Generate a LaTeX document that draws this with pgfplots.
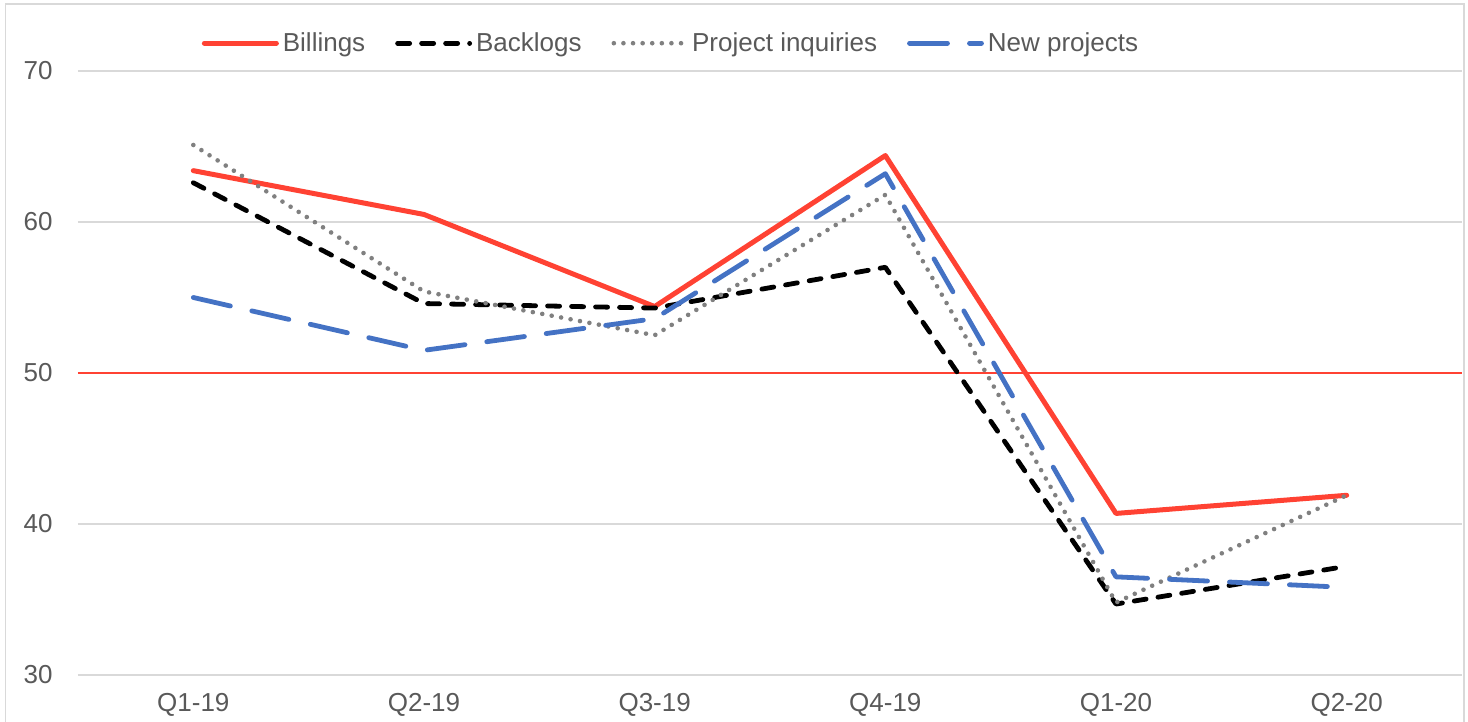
\documentclass[border=0pt]{standalone}
\usepackage{pgfplots}
\pgfplotsset{compat=1.18}
\usepackage{fontspec}
\setmainfont{Liberation Sans}
\definecolor{cRed}{RGB}{255,66,51}
\definecolor{cBlue}{RGB}{68,114,196}
\definecolor{cGrey}{RGB}{128,128,128}
\definecolor{cGrid}{RGB}{217,217,217}
\definecolor{cText}{RGB}{89,89,89}
\begin{document}
\begin{tikzpicture}
\useasboundingbox (-39pt,-23.5pt) rectangle (695pt,337.5pt);
\draw[cGrid, line width=0.8pt] (-36.25pt,-40pt) rectangle (693pt,335.5pt);
\begin{axis}[
  at={(0pt,0pt)}, anchor=south west,
  scale only axis,
  width=692pt, height=302pt,
  xmin=-0.5, xmax=5.5, ymin=30, ymax=70,
  xtick={0,1,2,3,4,5},
  xticklabels={Q1-19,Q2-19,Q3-19,Q4-19,Q1-20,Q2-20},
  ytick={30,40,50,60,70},
  major tick length=0pt,
  axis line style={draw=none},
  ymajorgrids, grid style={cGrid, line width=0.9pt},
  tick label style={font=\fontsize{13}{15}\selectfont, text=cText},
  yticklabel style={anchor=east, inner sep=0pt, xshift=-12.5pt},
  xticklabel style={anchor=north, inner sep=0pt, yshift=-9pt},
  /pgf/number format/assume math mode=true,
  clip=false,
  legend columns=-1,
  legend style={draw=none, fill=none, at={(0.4285,1.046)}, anchor=center,
    font=\fontsize{13}{15}\selectfont, text=cText,
    /tikz/every odd column/.append style={column sep=1pt},
    /tikz/every even column/.append style={column sep=14pt},
    inner sep=0pt, nodes={inner sep=1pt}},
  legend image code/.code={\draw[#1] (0pt,0pt) -- (36pt,0pt);},
]
\addplot[forget plot, cRed, line width=1.1pt] coordinates {(-0.5,50) (5.5,50)};
\addplot[cRed, line width=2.5pt, line join=round, line cap=round] coordinates {
 (0,63.4) (1,60.5) (2,54.4) (3,64.4) (4,40.7) (5,41.9)};
\addlegendentry{Billings}
\addplot[black, line width=2.4pt, line join=round, line cap=round, dash pattern=on 6pt off 6pt] coordinates {
 (0,62.6) (1,54.6) (2,54.3) (3,57.0) (4,34.7) (5,37.2)};
\addlegendentry{Backlogs}
\addplot[cGrey, line width=2.3pt, line cap=round, dash pattern=on 0pt off 4.8pt] coordinates {
 (0,65.1) (1,55.4) (2,52.5) (3,61.8) (4,34.8) (5,41.9)};
\addlegendentry{Project inquiries}
\addplot[cBlue, line width=2.4pt, line join=round, line cap=round, dash pattern=on 19pt off 11pt] coordinates {
 (0,55.0) (1,51.5) (2,53.6) (3,63.2) (4,36.5) (5,35.8)};
\addlegendentry{New projects}
\end{axis}
\end{tikzpicture}
\end{document}
